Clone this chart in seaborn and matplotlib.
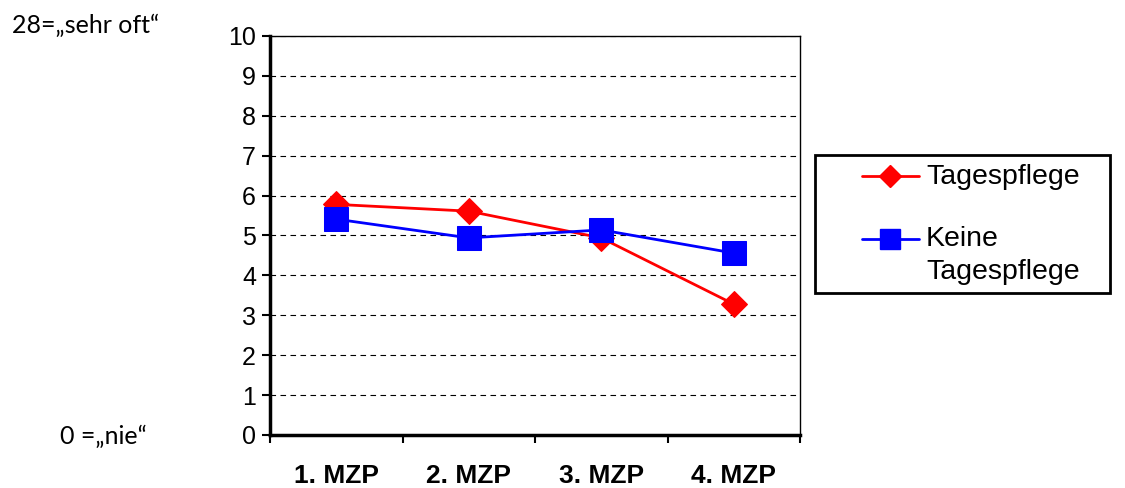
import matplotlib
matplotlib.use("Agg")
import matplotlib.pyplot as plt
import seaborn as sns
import pandas as pd
from matplotlib.lines import Line2D
from matplotlib.patches import Rectangle

categories = ["1. MZP", "2. MZP", "3. MZP", "4. MZP"]
tagespflege = [5.78, 5.61, 4.94, 3.28]
keine_tagespflege = [5.41, 4.94, 5.14, 4.56]
series_names = ["Tagespflege", "Keine\nTagespflege"]
y_ticks = list(range(0, 11))

sns.set_theme(style="white")
plt.rcParams['font.family'] = ['Liberation Sans', 'DejaVu Sans']
plt.rcParams['text.color'] = 'black'
plt.rcParams['xtick.color'] = 'black'
plt.rcParams['ytick.color'] = 'black'

df = pd.DataFrame({
    "x": list(range(len(categories))) * 2,
    "value": tagespflege + keine_tagespflege,
    "series": [series_names[0]] * 4 + [series_names[1]] * 4,
})

W, H = 1125, 488
fig = plt.figure(figsize=(W / 100, H / 100), dpi=100)
ax = fig.add_axes([270/W, 1 - 435/H, 530/W, 399/H])

colors = {series_names[0]: "#ff0000", series_names[1]: "#0000ff"}
markers = {series_names[0]: "D", series_names[1]: "s"}
sizes = {series_names[0]: 13, series_names[1]: 17}
for name in series_names:
    sub = df[df["series"] == name]
    sns.lineplot(data=sub, x="x", y="value", ax=ax, color=colors[name],
                 marker=markers[name], markersize=sizes[name],
                 markeredgecolor=colors[name], linewidth=2, legend=False,
                 zorder=3)

ax.set_xlim(-0.5, 3.5)
ax.set_ylim(0, 10)
ax.set_yticks(y_ticks)
ax.set_yticklabels([str(t) for t in y_ticks], fontsize=18)
ax.set_xticks([-0.5, 0.5, 1.5, 2.5, 3.5])
ax.set_xticklabels([])
ax.set_xticks(range(len(categories)), minor=True)
ax.set_xticklabels(categories, minor=True, fontsize=19, fontweight="bold")
ax.tick_params(axis="x", which="minor", length=0, pad=21)
ax.tick_params(axis="x", which="major", direction="out", length=6, width=1.5, color="black", bottom=True)
ax.tick_params(axis="y", direction="out", length=6, width=1.5, color="black", left=True, pad=4)
ax.set_xlabel("")
ax.set_ylabel("")

for y in y_ticks[1:]:
    ax.axhline(y, color="black", linestyle=(0, (5, 4)), linewidth=0.8, zorder=1)

for side in ["top", "right"]:
    ax.spines[side].set_color("black")
    ax.spines[side].set_linewidth(1)
for side in ["left", "bottom"]:
    ax.spines[side].set_color("black")
    ax.spines[side].set_linewidth(2.5)

# legend
handles = [Line2D([0], [0], color=colors[n], marker=markers[n], markersize=sizes[n] * 0.85,
                  linewidth=2, markeredgecolor=colors[n]) for n in series_names]
leg = fig.legend(handles, series_names, loc="upper left",
                 bbox_to_anchor=(862/W, 1 - 164/H), fontsize=20.5,
                 frameon=False, handlelength=2.0, handleheight=1.2,
                 labelspacing=1.17, borderpad=0, borderaxespad=0,
                 handletextpad=0.25)
for t in leg.get_texts():
    t.set_linespacing(1.35)
for col in leg._legend_handle_box.get_children():
    for item in col.get_children():
        item.align = "top"
fig.patches.append(Rectangle((815/W, 1 - 293/H), 295/W, 138/H, transform=fig.transFigure,
                             fill=False, edgecolor="black", linewidth=2, figure=fig))

fig.text(12/W, 1 - 25/H, "28=„sehr oft“", fontsize=18, va="center", ha="left",
         family=["Lato", "DejaVu Sans"], color="black")
fig.text(60/W, 1 - 436/H, "0 =„nie“", fontsize=18, va="center", ha="left",
         family=["Lato", "DejaVu Sans"], color="black")

fig.savefig("out.png", dpi=100)
